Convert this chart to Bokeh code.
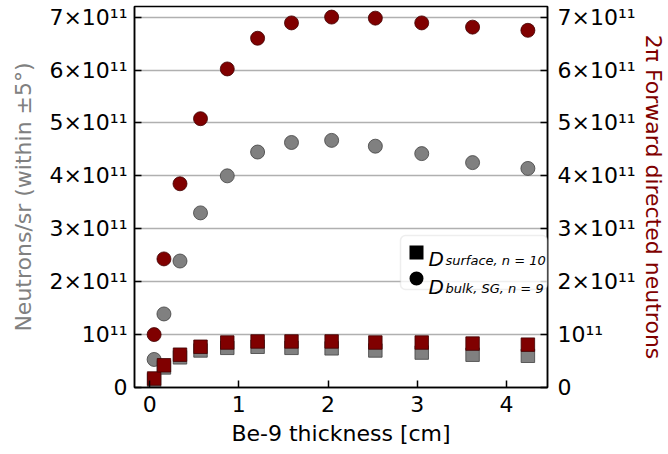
from bokeh.plotting import figure
from bokeh.models import Range1d, LinearAxis, FixedTicker, BoxAnnotation, Label, ColumnDataSource
from bokeh.embed import file_html
from bokeh.resources import INLINE

# ---- data ----
thickness = [0.05, 0.16, 0.34, 0.57, 0.87, 1.21, 1.59, 2.04, 2.53, 3.05, 3.62, 4.24]
bulk_per_sr = [0.53e11, 1.39e11, 2.39e11, 3.30e11, 4.00e11, 4.45e11, 4.63e11, 4.67e11, 4.56e11, 4.42e11, 4.25e11, 4.14e11]
bulk_2pi = [1.00e11, 2.43e11, 3.85e11, 5.08e11, 6.02e11, 6.60e11, 6.89e11, 7.00e11, 6.98e11, 6.89e11, 6.81e11, 6.75e11]
surface_per_sr = [0.14e11, 0.38e11, 0.57e11, 0.70e11, 0.75e11, 0.77e11, 0.75e11, 0.74e11, 0.70e11, 0.66e11, 0.62e11, 0.60e11]
surface_2pi = [0.17e11, 0.42e11, 0.62e11, 0.77e11, 0.85e11, 0.87e11, 0.87e11, 0.87e11, 0.85e11, 0.85e11, 0.83e11, 0.81e11]

x_ticks = [0, 1, 2, 3, 4]
y_ticks = [0, 1e11, 2e11, 3e11, 4e11, 5e11, 6e11, 7e11]
y_tick_labels = ["0", "10¹¹", "2×10¹¹", "3×10¹¹", "4×10¹¹", "5×10¹¹", "6×10¹¹", "7×10¹¹"]

GRAY = "#808080"
RED = "#800000"
FONT = "DejaVu Sans"
FS = "22px"

src = ColumnDataSource(dict(x=thickness, bsr=bulk_per_sr, b2pi=bulk_2pi,
                            ssr=surface_per_sr, s2pi=surface_2pi))

p = figure(width=668, height=454, output_backend="svg", toolbar_location=None,
           x_range=Range1d(-0.17, 4.46), y_range=Range1d(0, 7.2e11),
           min_border_left=134, min_border_right=116, min_border_top=6, min_border_bottom=67,
           background_fill_color="white", border_fill_color="white")

p.outline_line_color = "black"
p.outline_line_width = 1.5
p.xgrid.visible = False
p.ygrid.grid_line_color = "#b0b0b0"
p.ygrid.grid_line_width = 1.6
p.ygrid.ticker = FixedTicker(ticks=y_ticks)

overrides = {t: l for t, l in zip(y_ticks, y_tick_labels)}


def style_axis(ax, standoff):
    ax.axis_line_color = "black"
    ax.axis_line_width = 1.5
    ax.major_tick_line_color = "black"
    ax.major_tick_line_width = 1.5
    ax.major_tick_in = 7
    ax.major_tick_out = 0
    ax.minor_tick_line_color = None
    ax.major_label_text_font = FONT
    ax.major_label_text_font_size = FS
    ax.major_label_text_color = "black"
    ax.major_label_standoff = standoff
    ax.axis_label_text_font = FONT
    ax.axis_label_text_font_size = FS
    ax.axis_label_text_font_style = "normal"


xa = p.xaxis[0]
xa.ticker = FixedTicker(ticks=x_ticks)
style_axis(xa, 8)
xa.axis_label = "Be-9 thickness [cm]"
xa.axis_label_standoff = 6
xa.axis_label_text_color = "black"

ya = p.yaxis[0]
ya.ticker = FixedTicker(ticks=y_ticks)
ya.major_label_overrides = overrides
style_axis(ya, 7)
ya.axis_label = "Neutrons/sr (within ±5°)"
ya.axis_label_text_color = GRAY
ya.axis_label_standoff = 10

yr = LinearAxis(ticker=FixedTicker(ticks=y_ticks), major_label_overrides=overrides)
style_axis(yr, 10)
yr.axis_label = "2π Forward directed neutrons"
yr.axis_label_text_color = RED
yr.axis_label_standoff = 2
p.add_layout(yr, "right")

# markers: gray (per sr, left axis), then red (2pi, right axis)
p.scatter("x", "bsr", source=src, marker="circle", size=14,
          fill_color=GRAY, line_color="#404040", line_width=0.8)
p.scatter("x", "ssr", source=src, marker="square", size=13.5,
          fill_color=GRAY, line_color="#404040", line_width=0.8)
p.scatter("x", "b2pi", source=src, marker="circle", size=14,
          fill_color=RED, line_color="#400000", line_width=0.8)
p.scatter("x", "s2pi", source=src, marker="square", size=13.5,
          fill_color=RED, line_color="#400000", line_width=0.8)

# legend (screen units, relative to the plot frame)
p.add_layout(BoxAnnotation(left=266, right=413, bottom=98, top=152,
                           left_units="screen", right_units="screen",
                           bottom_units="screen", top_units="screen",
                           fill_color="white", fill_alpha=0.8,
                           line_color="#c8c8c8", line_width=1.5, border_radius=5))
p.add_layout(BoxAnnotation(left=275, right=289, bottom=128, top=142,
                           left_units="screen", right_units="screen",
                           bottom_units="screen", top_units="screen",
                           fill_color="black", fill_alpha=1, line_color="black", line_width=0))
p.add_layout(BoxAnnotation(left=275, right=289, bottom=102, top=116,
                           left_units="screen", right_units="screen",
                           bottom_units="screen", top_units="screen",
                           fill_color="black", fill_alpha=1, line_color="black", line_width=0,
                           border_radius=7))

for (yb, ys, sub) in [(129, 127, "surface, n = 10"), (101, 99, "bulk, SG, n = 9")]:
    p.add_layout(Label(x=294, y=yb, x_units="screen", y_units="screen", text="D",
                       text_font=FONT, text_font_size="20px", text_font_style="italic",
                       text_baseline="alphabetic", text_align="left", text_color="black"))
    p.add_layout(Label(x=311, y=ys, x_units="screen", y_units="screen", text=sub,
                       text_font=FONT, text_font_size="13px", text_font_style="italic",
                       text_baseline="alphabetic", text_align="left", text_color="black"))

open("out.html", "w").write(file_html(p, INLINE))
